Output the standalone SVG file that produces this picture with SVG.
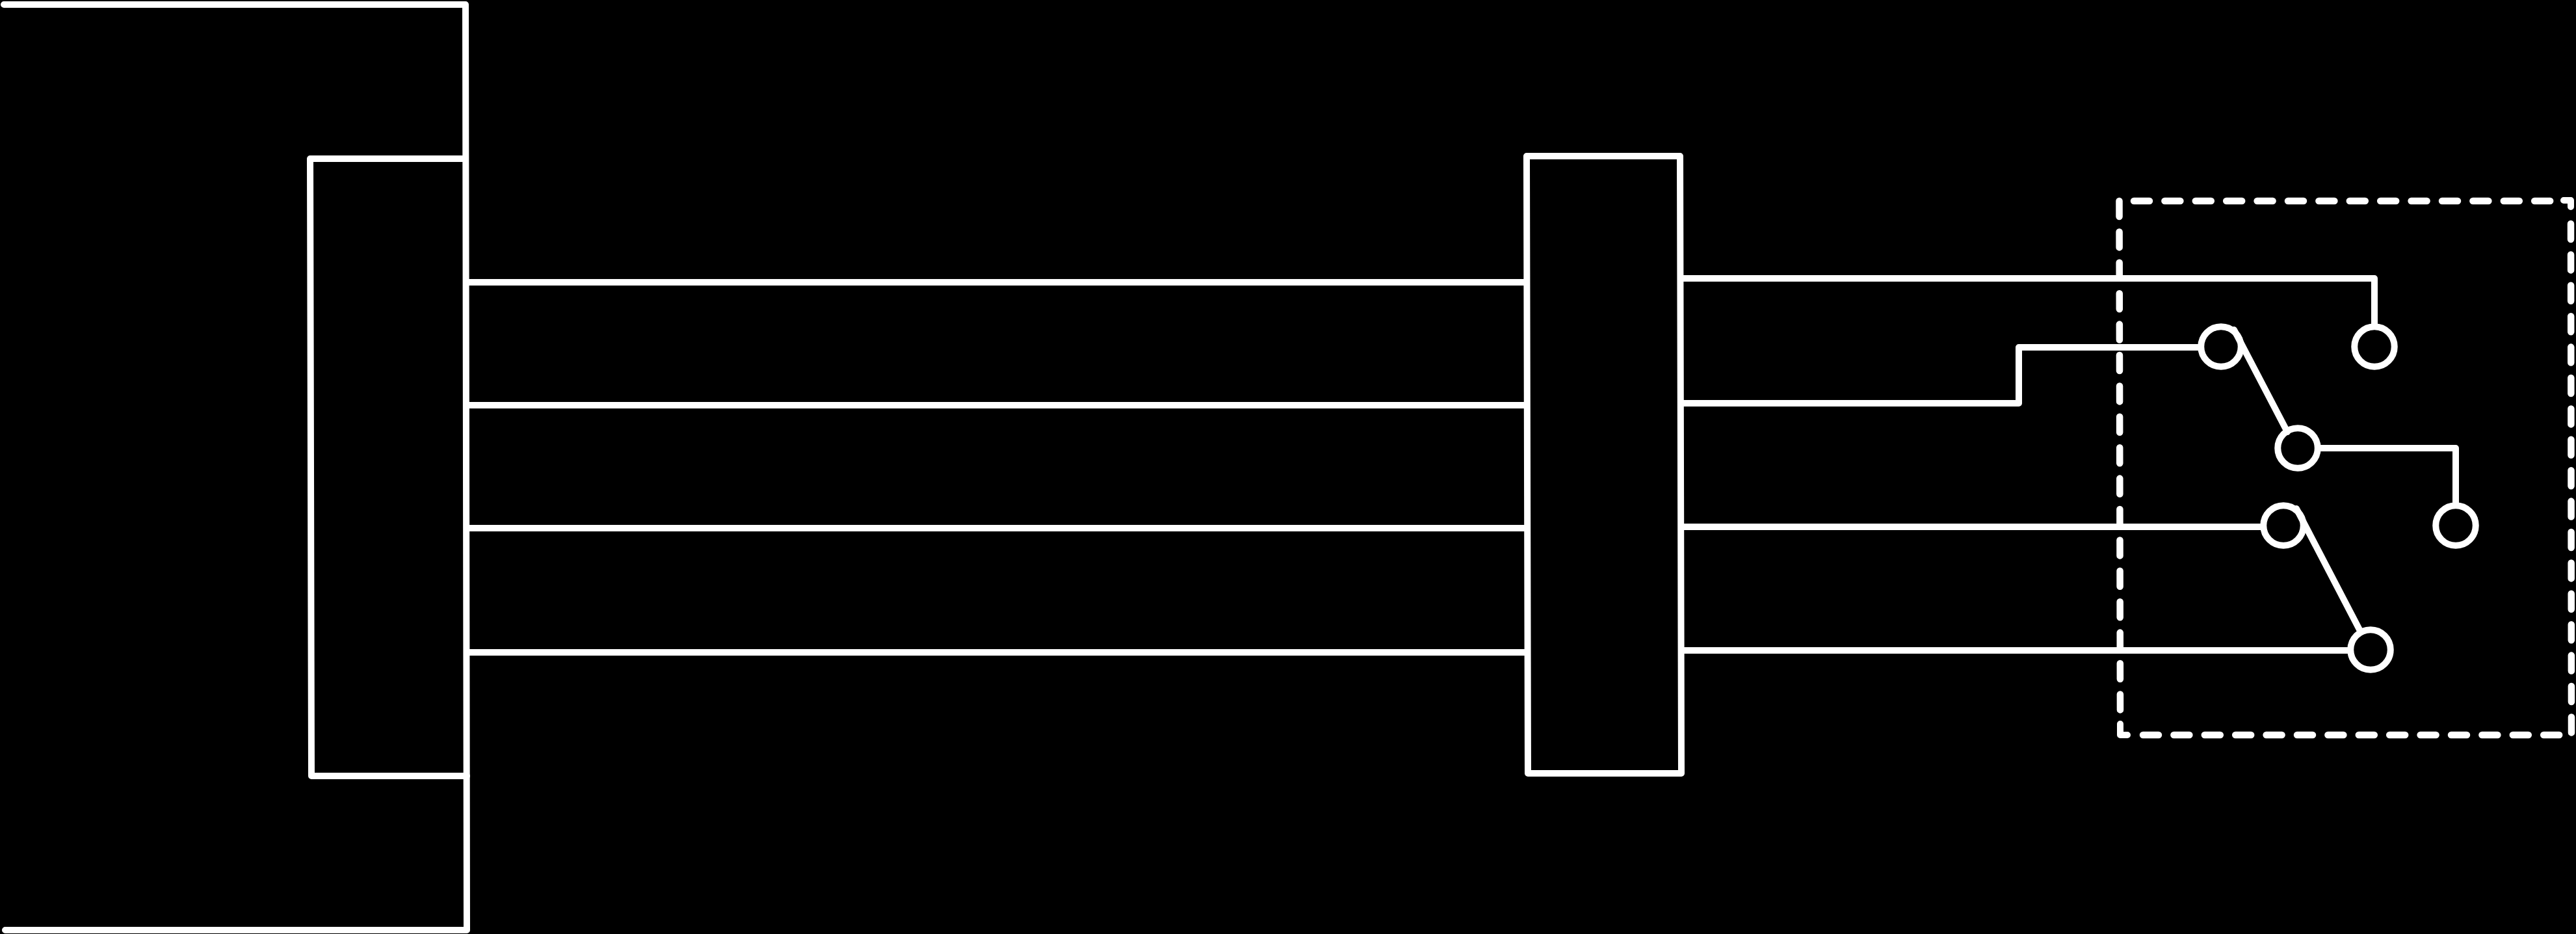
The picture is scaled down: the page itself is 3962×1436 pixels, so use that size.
<svg xmlns="http://www.w3.org/2000/svg" width="3962" height="1436" viewBox="0 0 3962 1436">
<style>
.l{fill:none;stroke:#fff;stroke-width:10;stroke-linecap:round;stroke-linejoin:round}
.d{stroke-width:10.5;stroke-dasharray:24 23.4}
.c{fill:none;stroke:#fff;stroke-width:10}
</style>
<rect width="3962" height="1436" fill="#000"/>
<g id="device-left"><path class="l" d="M6 7H716L718 1430H8"/></g>
<g id="connector-left"><path class="l" d="M716 244H477L479 1193H718"/></g>
<g id="connector-right"><path class="l" d="M2348 240H2584L2586 1189H2350Z"/></g>
<g id="housing">
<path class="l d" d="M3282 309H3924"/>
<path class="l" d="M3943 308H3954V318"/>
<path class="l d" d="M3954 344L3955 1127"/>
<path class="l d" d="M3296 1130H3937"/>
<path class="l" d="M3261 1113V1130H3272"/>
<path class="l d" d="M3259.5 309L3261 1103"/>
</g>
<g id="connectors">
<path class="l" d="M718 434H2348"/>
<path class="l" d="M718 623H2348"/>
<path class="l" d="M718 812H2348"/>
<path class="l" d="M718 1003H2348"/>
<path class="l" d="M2586 428H3652V502"/>
<path class="l" d="M2586 620H3105V534H3385"/>
<path class="l" d="M2586 810H3481"/>
<path class="l" d="M2586 1000H3615"/>
<path class="l" d="M3436 507L3518 664"/>
<path class="l" d="M3532 782L3630 970"/>
<path class="l" d="M3566 689H3777V777"/>
</g>
<g id="terminal-1"><circle class="c" cx="3652" cy="533" r="30.75"/></g>
<g id="terminal-2"><circle class="c" cx="3416" cy="533" r="30.75"/></g>
<g id="terminal-3"><circle class="c" cx="3534" cy="689" r="30.75"/></g>
<g id="terminal-4"><circle class="c" cx="3777" cy="808" r="30.75"/></g>
<g id="terminal-5"><circle class="c" cx="3512" cy="808" r="30.75"/></g>
<g id="terminal-6"><circle class="c" cx="3646" cy="999" r="30.75"/></g>
</svg>
